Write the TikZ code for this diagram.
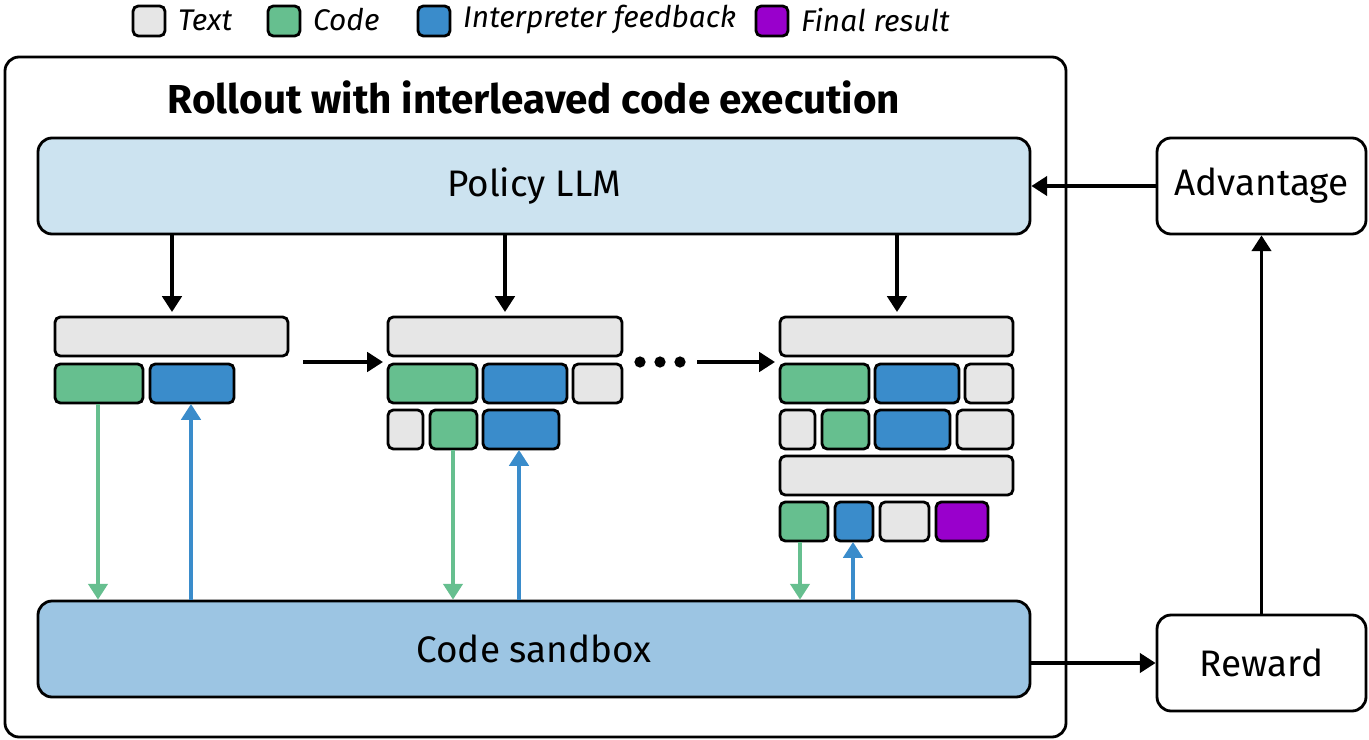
\documentclass[tikz,border=0pt]{standalone}
\usepackage{fontspec}
\setmainfont{Fira Sans}
\usetikzlibrary{arrows.meta}
\definecolor{cgray}{HTML}{E6E6E6}
\definecolor{cgreen}{HTML}{66BF8F}
\definecolor{cblue}{HTML}{3A8CCB}
\definecolor{cpurple}{HTML}{9900CC}
\definecolor{cpolicy}{HTML}{CCE3F0}
\definecolor{csand}{HTML}{9CC5E3}
\begin{document}
\begin{tikzpicture}[x=0.02cm,y=-0.02cm,
  tok/.style={draw=black,line width=1.6pt,rounded corners=3pt},
  big/.style={draw=black,line width=1.6pt,rounded corners=8pt},
  arr/.style={line width=2pt,-{Triangle[length=9pt,width=11pt]}},
  lbl/.style={font=\fontsize{21}{24}\selectfont},
  leg/.style={font=\itshape\fontsize{17}{20}\selectfont,anchor=west}]
\useasboundingbox (0,0) rectangle (1369,740);
% legend
\draw[tok,fill=cgray] (133,6) rectangle (165,36); \node[leg] (lt) at (172,20) {Text};
\draw[tok,fill=cgreen] (268,6) rectangle (300,36); \node[leg] (lc) at (307,20) {Code};
\draw[tok,fill=cblue] (418,6) rectangle (450,36); \node[leg] (li) at (457,20) {Interpreter feedback};
\draw[tok,fill=cpurple] (756,6) rectangle (788,36); \node[leg] (lf) at (795,20) {Final result};
% outer
\draw[big] (5,57) rectangle (1066,737);
\node[font=\bfseries\fontsize{23}{26}\selectfont] (title) at (534,97) {Rollout with interleaved code execution};
\node[big,fill=cpolicy,minimum width=992*0.02cm,minimum height=96*0.02cm,lbl] (pol) at (534,186) {Policy LLM};
\node[big,fill=csand,minimum width=992*0.02cm,minimum height=96*0.02cm,lbl] (sand) at (534,649) {Code sandbox};
\node[big,fill=white,minimum width=209*0.02cm,minimum height=96*0.02cm,lbl] (adv) at (1261.5,186) {Advantage};
\node[big,fill=white,minimum width=209*0.02cm,minimum height=96*0.02cm,lbl] (rew) at (1261.5,663) {Reward};
\draw[arr] (adv.west) -- (pol.east|-adv.west);
\draw[arr] (rew.north) -- (adv.south);
\draw[arr] (sand.east|-rew.west) -- (rew.west);
% down arrows
\coordinate (d1) at (172,312); \coordinate (d2) at (505,312); \coordinate (d3) at (897,312);
\draw[arr] (pol.south-|d1) -- (d1);
\draw[arr] (pol.south-|d2) -- (d2);
\draw[arr] (pol.south-|d3) -- (d3);
% group 1
\draw[tok,fill=cgray] (55,317) rectangle (288,356);
\draw[tok,fill=cgreen] (55,364) rectangle (143,403);
\draw[tok,fill=cblue] (150,364) rectangle (234,403);
% between arrows
\coordinate (h1) at (303,362); \coordinate (h2) at (383,362);
\draw[arr] (h1) -- (h2);
\foreach \x in {640,660,680} \fill (\x,362) circle (3.2pt);
\coordinate (h3) at (697,362); \coordinate (h4) at (775,362);
\draw[arr] (h3) -- (h4);
% group 2
\draw[tok,fill=cgray] (388,317) rectangle (622,356);
\draw[tok,fill=cgreen] (388,364) rectangle (477,403);
\draw[tok,fill=cblue] (483,364) rectangle (567,403);
\draw[tok,fill=cgray] (573,364) rectangle (622,403);
\draw[tok,fill=cgray] (388,410) rectangle (423,449);
\draw[tok,fill=cgreen] (430,410) rectangle (477,449);
\draw[tok,fill=cblue] (483,410) rectangle (559,449);
% group 3
\draw[tok,fill=cgray] (780,317) rectangle (1013,356);
\draw[tok,fill=cgreen] (780,364) rectangle (869,403);
\draw[tok,fill=cblue] (875,364) rectangle (959,403);
\draw[tok,fill=cgray] (965,364) rectangle (1013,403);
\draw[tok,fill=cgray] (780,410) rectangle (815,449);
\draw[tok,fill=cgreen] (822,410) rectangle (869,449);
\draw[tok,fill=cblue] (875,410) rectangle (950,449);
\draw[tok,fill=cgray] (957,410) rectangle (1013,449);
\draw[tok,fill=cgray] (780,456) rectangle (1013,495);
\draw[tok,fill=cgreen] (780,502) rectangle (828,541);
\draw[tok,fill=cblue] (835,502) rectangle (873,541);
\draw[tok,fill=cgray] (880,502) rectangle (929,541);
\draw[tok,fill=cpurple] (936,502) rectangle (988,541);
% vertical arrows
\draw[arr,cgreen] (98,404) -- (sand.north-|98,0);
\draw[arr,cblue] (sand.north-|191,0) -- (191,404);
\draw[arr,cgreen] (453,450) -- (sand.north-|453,0);
\draw[arr,cblue] (sand.north-|519,0) -- (519,450);
\draw[arr,cgreen] (800,542) -- (sand.north-|800,0);
\draw[arr,cblue] (sand.north-|853,0) -- (853,542);
\end{tikzpicture}
\end{document}
